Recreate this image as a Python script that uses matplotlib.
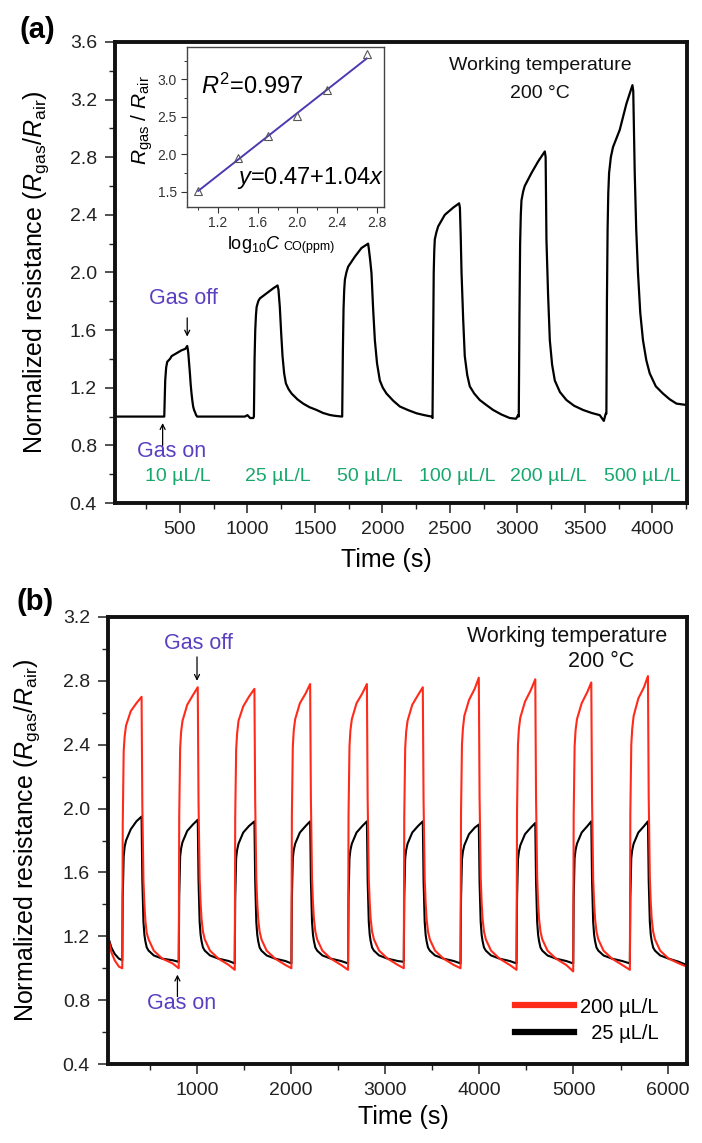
import matplotlib
matplotlib.use('Agg')
import matplotlib.pyplot as plt
from matplotlib.ticker import MultipleLocator, FormatStrFormatter

plt.rcParams['font.family'] = ['Liberation Sans', 'DejaVu Sans']
plt.rcParams['mathtext.fontset'] = 'custom'
plt.rcParams['mathtext.rm'] = 'Liberation Sans'
plt.rcParams['mathtext.it'] = 'Liberation Sans:italic'
plt.rcParams['mathtext.bf'] = 'Liberation Sans:bold'

# ---------------- data: panel (a) ----------------
time_a = [20, 384, 387, 391, 398, 406, 426, 439, 476, 512, 540, 554,
          558, 562, 568, 574, 580, 586, 592, 598, 605, 612, 620, 628,
          981, 1000, 1020, 1043,
          1048, 1053, 1058, 1063, 1068, 1080, 1092, 1142, 1191, 1223,
          1230, 1240, 1250, 1260, 1272, 1285, 1305, 1327, 1370, 1413, 1460, 1512, 1560, 1611, 1650, 1697,
          1702, 1707, 1712, 1717, 1722, 1733, 1746, 1796, 1845, 1894,
          1900, 1910, 1919, 1931, 1944, 1960, 1981, 2003, 2030, 2080, 2129, 2190, 2252, 2310, 2364,
          2371, 2376, 2380, 2384, 2388, 2400, 2413, 2462, 2524, 2568,
          2574, 2580, 2586, 2598, 2610, 2628, 2647, 2680, 2721, 2770, 2820, 2880, 2943, 2990, 3005,
          3010, 3015, 3020, 3025, 3030, 3042, 3054, 3104, 3153, 3203,
          3209, 3215, 3227, 3240, 3257, 3277, 3315, 3363, 3420, 3486, 3550, 3610, 3640, 3654,
          3659, 3663, 3668, 3673, 3679, 3692, 3708, 3733, 3758, 3807, 3852,
          3858, 3869, 3880, 3893, 3910, 3930, 3955, 3980, 4025, 4078, 4128, 4178, 4256]
resp_a = [1.00, 1.00, 1.12, 1.25, 1.34, 1.38, 1.40, 1.42, 1.44, 1.46, 1.47, 1.49,
          1.47, 1.44, 1.37, 1.30, 1.22, 1.16, 1.11, 1.07, 1.045, 1.03, 1.01, 1.00,
          1.00, 1.01, 0.99, 0.99,
          1.00, 1.40, 1.60, 1.70, 1.76, 1.80, 1.82, 1.855, 1.89, 1.91,
          1.88, 1.76, 1.58, 1.42, 1.30, 1.23, 1.19, 1.16, 1.12, 1.09, 1.065, 1.046, 1.025, 1.011, 1.005, 1.00,
          1.00, 1.45, 1.75, 1.88, 1.95, 2.00, 2.04, 2.11, 2.17, 2.20,
          2.16, 2.08, 1.995, 1.75, 1.53, 1.37, 1.25, 1.20, 1.16, 1.11, 1.07, 1.045, 1.023, 1.01, 1.00,
          0.99, 1.60, 2.00, 2.15, 2.23, 2.28, 2.32, 2.40, 2.45, 2.48,
          2.45, 2.25, 2.00, 1.68, 1.42, 1.29, 1.21, 1.16, 1.115, 1.08, 1.046, 1.015, 0.99, 0.985, 1.01,
          1.00, 1.70, 2.20, 2.40, 2.50, 2.56, 2.60, 2.69, 2.77, 2.84,
          2.80, 2.23, 1.85, 1.53, 1.36, 1.25, 1.17, 1.115, 1.075, 1.046, 1.025, 1.01, 0.97, 1.02,
          1.02, 1.80, 2.30, 2.55, 2.69, 2.80, 2.87, 2.93, 2.99, 3.17, 3.30,
          3.26, 2.69, 2.30, 2.00, 1.72, 1.53, 1.39, 1.30, 1.21, 1.16, 1.12, 1.09, 1.08]
conc_labels = ['10 µL/L', '25 µL/L', '50 µL/L', '100 µL/L', '200 µL/L', '500 µL/L']

# inset (a)
log_conc = [1.0, 1.398, 1.699, 2.0, 2.301, 2.699]
ratio_inset = [1.51, 1.95, 2.24, 2.51, 2.85, 3.34]
fit_intercept = 0.47
fit_slope = 1.04

# ---------------- data: panel (b) ----------------
time_b = [54, 90, 125, 170,
          206, 211, 221, 231, 246, 296, 356, 411, 419, 431, 441, 451, 466, 486, 541, 631, 741,
          806, 811, 821, 831, 846, 896, 956, 1008, 1016, 1028, 1038, 1048, 1063, 1083, 1138, 1228, 1338,
          1401, 1406, 1416, 1426, 1441, 1491, 1551, 1610, 1618, 1630, 1640, 1650, 1665, 1685, 1740, 1830, 1940,
          2003, 2008, 2018, 2028, 2043, 2093, 2153, 2202, 2210, 2222, 2232, 2242, 2257, 2277, 2332, 2422, 2532,
          2605, 2610, 2620, 2630, 2645, 2695, 2755, 2805, 2813, 2825, 2835, 2845, 2860, 2880, 2935, 3025, 3135,
          3197, 3202, 3212, 3222, 3237, 3287, 3347, 3399, 3407, 3419, 3429, 3439, 3454, 3474, 3529, 3619, 3729,
          3800, 3805, 3815, 3825, 3840, 3890, 3950, 3994, 4002, 4014, 4024, 4034, 4049, 4069, 4124, 4214, 4324,
          4395, 4400, 4410, 4420, 4435, 4485, 4545, 4594, 4602, 4614, 4624, 4634, 4649, 4669, 4724, 4814, 4924,
          4997, 5002, 5012, 5022, 5037, 5087, 5147, 5189, 5197, 5209, 5219, 5229, 5244, 5264, 5319, 5409, 5519,
          5599, 5604, 5614, 5624, 5639, 5689, 5749, 5791, 5799, 5811, 5821, 5831, 5846, 5866, 5921, 6011, 6121,
          6202]
resp_200 = [1.20, 1.10, 1.05, 1.01,
            1.00, 1.90, 2.36, 2.45, 2.52, 2.61, 2.66, 2.70, 2.02, 1.55, 1.40, 1.30, 1.22, 1.18, 1.11, 1.06, 1.03,
            1.00, 1.95, 2.38, 2.48, 2.55, 2.65, 2.71, 2.76, 2.05, 1.56, 1.41, 1.31, 1.23, 1.18, 1.11, 1.06, 1.02,
            0.99, 1.95, 2.37, 2.47, 2.55, 2.64, 2.70, 2.75, 2.05, 1.56, 1.41, 1.31, 1.23, 1.18, 1.11, 1.06, 1.02,
            1.00, 1.96, 2.39, 2.49, 2.56, 2.66, 2.72, 2.78, 2.06, 1.56, 1.41, 1.31, 1.23, 1.18, 1.11, 1.06, 1.02,
            0.99, 1.96, 2.39, 2.49, 2.56, 2.66, 2.72, 2.78, 2.06, 1.56, 1.41, 1.31, 1.23, 1.18, 1.11, 1.06, 1.02,
            1.00, 1.95, 2.38, 2.48, 2.55, 2.65, 2.71, 2.76, 2.05, 1.56, 1.41, 1.31, 1.23, 1.18, 1.11, 1.06, 1.02,
            1.00, 1.97, 2.40, 2.50, 2.58, 2.68, 2.75, 2.82, 2.08, 1.57, 1.41, 1.31, 1.23, 1.18, 1.11, 1.06, 1.02,
            0.99, 1.97, 2.40, 2.50, 2.57, 2.67, 2.74, 2.81, 2.07, 1.57, 1.41, 1.31, 1.23, 1.18, 1.11, 1.06, 1.02,
            0.98, 1.96, 2.39, 2.49, 2.56, 2.66, 2.73, 2.79, 2.06, 1.56, 1.41, 1.31, 1.23, 1.18, 1.11, 1.06, 1.02,
            0.99, 1.97, 2.40, 2.50, 2.58, 2.69, 2.76, 2.83, 2.08, 1.57, 1.41, 1.31, 1.23, 1.18, 1.11, 1.06, 1.03,
            1.01]
resp_25 = [1.20, 1.13, 1.09, 1.06,
           1.05, 1.45, 1.70, 1.76, 1.80, 1.87, 1.92, 1.95, 1.55, 1.29, 1.21, 1.17, 1.13, 1.11, 1.08, 1.06, 1.05,
           1.04, 1.45, 1.70, 1.75, 1.79, 1.86, 1.90, 1.93, 1.55, 1.29, 1.21, 1.17, 1.13, 1.11, 1.08, 1.06, 1.045,
           1.03, 1.44, 1.69, 1.74, 1.78, 1.85, 1.89, 1.92, 1.55, 1.29, 1.21, 1.17, 1.13, 1.11, 1.08, 1.06, 1.045,
           1.03, 1.44, 1.69, 1.74, 1.78, 1.85, 1.89, 1.92, 1.55, 1.29, 1.21, 1.17, 1.13, 1.11, 1.08, 1.06, 1.045,
           1.03, 1.44, 1.69, 1.74, 1.78, 1.85, 1.89, 1.92, 1.55, 1.29, 1.21, 1.17, 1.13, 1.11, 1.08, 1.06, 1.045,
           1.04, 1.44, 1.69, 1.74, 1.78, 1.85, 1.89, 1.92, 1.55, 1.29, 1.21, 1.17, 1.13, 1.11, 1.08, 1.06, 1.045,
           1.03, 1.43, 1.68, 1.73, 1.77, 1.84, 1.88, 1.90, 1.54, 1.29, 1.21, 1.17, 1.13, 1.11, 1.08, 1.06, 1.045,
           1.03, 1.43, 1.68, 1.73, 1.77, 1.84, 1.88, 1.91, 1.54, 1.29, 1.21, 1.17, 1.13, 1.11, 1.08, 1.06, 1.045,
           1.03, 1.44, 1.69, 1.74, 1.78, 1.85, 1.89, 1.92, 1.55, 1.29, 1.21, 1.17, 1.13, 1.11, 1.08, 1.06, 1.045,
           1.03, 1.44, 1.69, 1.74, 1.78, 1.85, 1.89, 1.92, 1.55, 1.29, 1.21, 1.17, 1.13, 1.11, 1.08, 1.06, 1.04,
           1.02]
legend_labels = ['200 µL/L', '  25 µL/L']

assert len(time_a) == len(resp_a)
assert len(time_b) == len(resp_200) == len(resp_25)

# ---------------- styling ----------------
GREEN = '#16a86c'
PURPLE = '#5a40c0'
RED = '#ff2a1a'
SPINE_W = 2.8

fig = plt.figure(figsize=(7.02, 11.43), dpi=100)


def style_main(ax):
    for s in ax.spines.values():
        s.set_linewidth(SPINE_W)
        s.set_color('#111111')
    ax.tick_params(which='both', direction='out', top=False, right=False,
                   labelsize=14, pad=6, colors='#222222')
    ax.tick_params(which='major', length=7, width=1.1)
    ax.tick_params(which='minor', length=4, width=1.0)


# ---------------- panel (a) ----------------
axa = fig.add_axes([0.1638, 0.5599, 0.8148, 0.4034])
style_main(axa)
axa.plot(time_a, resp_a, color='black', lw=1.6)
axa.set_xlim(19, 4256)
axa.set_ylim(0.4, 3.6)
axa.set_xticks([500, 1000, 1500, 2000, 2500, 3000, 3500, 4000])
axa.xaxis.set_minor_locator(MultipleLocator(250))
axa.yaxis.set_major_locator(MultipleLocator(0.4))
axa.yaxis.set_minor_locator(MultipleLocator(0.2))
axa.yaxis.set_major_formatter(FormatStrFormatter('%.1f'))
axa.set_xlabel('Time (s)', fontsize=18)
axa.xaxis.set_label_coords(0.474, -0.097)
axa.set_ylabel(r'Normalized resistance ($R_{\rm gas}$/$R_{\rm air}$)', fontsize=18)
axa.yaxis.set_label_coords(-0.112, 0.5)

label_pos_a = [483, 1228, 1907, 2558, 3225, 3928]
for lab, xp in zip(conc_labels, label_pos_a):
    axa.text(xp, 0.583, lab, ha='center', va='center', color=GREEN, fontsize=14)

axa.text(0.743, 0.95, 'Working temperature', transform=axa.transAxes,
         ha='center', va='center', fontsize=14, color='#111111')
axa.text(0.743, 0.889, '200 °C', transform=axa.transAxes,
         ha='center', va='center', fontsize=14, color='#111111')

axa.text(525, 1.82, 'Gas off', ha='center', va='center', color=PURPLE, fontsize=15.5)
axa.annotate('', xy=(554, 1.555), xytext=(554, 1.685),
             arrowprops=dict(arrowstyle='->', color='black', lw=0.9,
                             shrinkA=0, shrinkB=0, mutation_scale=9))
axa.text(438, 0.756, 'Gas on', ha='center', va='center', color=PURPLE, fontsize=15.5)
axa.annotate('', xy=(372, 0.955), xytext=(372, 0.80),
             arrowprops=dict(arrowstyle='->', color='black', lw=0.9,
                             shrinkA=0, shrinkB=0, mutation_scale=9))

fig.text(0.0527, 0.9738, '(a)', fontsize=21, fontweight='bold', ha='center', va='center')

# inset
axin = fig.add_axes([0.266, 0.8192, 0.281, 0.14])
for s in axin.spines.values():
    s.set_linewidth(1.0)
    s.set_color('#444444')
axin.tick_params(which='both', direction='out', top=False, right=False,
                 labelsize=10, pad=3, colors='#333333')
axin.tick_params(which='major', length=4, width=0.8)
axin.tick_params(which='minor', length=2.5, width=0.7)
fit_x = [min(log_conc), max(log_conc)]
fit_y = [fit_intercept + fit_slope * v for v in fit_x]
axin.plot(fit_x, fit_y, color='#4b3ab2', lw=1.4)
axin.plot(log_conc, ratio_inset, linestyle='none', marker='^', mfc='none',
          mec='#555555', ms=6, mew=0.8)
axin.set_xlim(0.884, 2.873)
axin.set_ylim(1.3, 3.435)
axin.set_xticks([1.2, 1.6, 2.0, 2.4, 2.8])
axin.xaxis.set_minor_locator(MultipleLocator(0.2))
axin.set_yticks([1.5, 2.0, 2.5, 3.0])
axin.yaxis.set_minor_locator(MultipleLocator(0.25))
axin.set_ylabel(r'$R_{\rm gas}$ / $R_{\rm air}$', fontsize=15)
axin.yaxis.set_label_coords(-0.16, 0.54)
axin.text(0.475, -0.266, r'log$_{10}$$C$', transform=axin.transAxes,
          ha='right', va='baseline', fontsize=13)
axin.text(0.49, -0.27, 'CO(ppm)', transform=axin.transAxes,
          ha='left', va='baseline', fontsize=9)
axin.text(0.07, 0.75, r'$R^2$=0.997', transform=axin.transAxes,
          ha='left', va='center', fontsize=17)
axin.text(0.628, 0.178, r'$y$=0.47+1.04$x$', transform=axin.transAxes,
          ha='center', va='center', fontsize=17)

# ---------------- panel (b) ----------------
axb = fig.add_axes([0.1538, 0.0691, 0.8243, 0.3911])
style_main(axb)
l25, = axb.plot(time_b, resp_25, color='black', lw=1.5, label=legend_labels[1])
l200, = axb.plot(time_b, resp_200, color=RED, lw=1.5, label=legend_labels[0])
axb.set_xlim(54, 6202)
axb.set_ylim(0.4, 3.2)
axb.set_xticks([1000, 2000, 3000, 4000, 5000, 6000])
axb.xaxis.set_minor_locator(MultipleLocator(500))
axb.yaxis.set_major_locator(MultipleLocator(0.4))
axb.yaxis.set_minor_locator(MultipleLocator(0.2))
axb.yaxis.set_major_formatter(FormatStrFormatter('%.1f'))
axb.set_xlabel('Time (s)', fontsize=18)
axb.xaxis.set_label_coords(0.51, -0.092)
axb.set_ylabel(r'Normalized resistance ($R_{\rm gas}$/$R_{\rm air}$)', fontsize=18)
axb.yaxis.set_label_coords(-0.114, 0.5)

leg = axb.legend(handles=[l200, l25], loc='lower right', bbox_to_anchor=(0.965, 0.03),
                 frameon=False, fontsize=14.5, handlelength=2.9, handletextpad=0.3,
                 labelspacing=0.35, borderaxespad=0)
for h in leg.legend_handles:
    h.set_linewidth(4.5)

axb.text(0.794, 0.956, 'Working temperature', transform=axb.transAxes,
         ha='center', va='center', fontsize=15.5, color='#111111')
axb.text(0.91, 0.90, '200 °C', transform=axb.transAxes,
         ha='right', va='center', fontsize=15.5, color='#111111')

axb.text(1011, 3.033, 'Gas off', ha='center', va='center', color=PURPLE, fontsize=15.5)
axb.annotate('', xy=(1000, 2.80), xytext=(1000, 2.95),
             arrowprops=dict(arrowstyle='->', color='black', lw=0.9,
                             shrinkA=0, shrinkB=0, mutation_scale=9))
axb.text(834, 0.78, 'Gas on', ha='center', va='center', color=PURPLE, fontsize=15.5)
axb.annotate('', xy=(792, 0.96), xytext=(792, 0.822),
             arrowprops=dict(arrowstyle='->', color='black', lw=0.9,
                             shrinkA=0, shrinkB=0, mutation_scale=9))

fig.text(0.0506, 0.4736, '(b)', fontsize=21, fontweight='bold', ha='center', va='center')

fig.savefig('out.png', dpi=100)
